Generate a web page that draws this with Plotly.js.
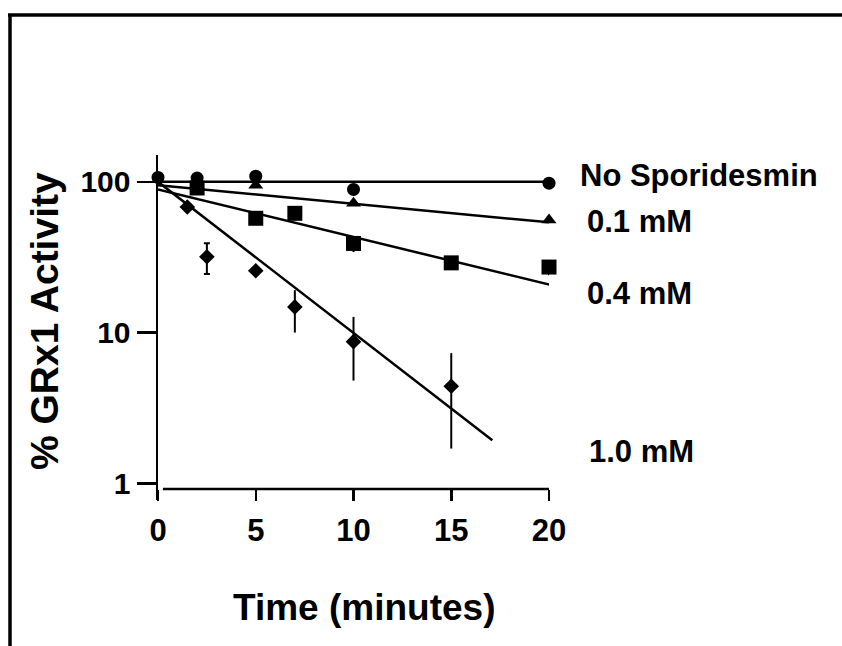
<!DOCTYPE html>
<html>
<head>
<meta charset="utf-8">
<script src="https://cdn.plot.ly/plotly-3.0.1.min.js"></script>
<style>
  html, body { margin: 0; padding: 0; background: #fff; }
  #chart { width: 842px; height: 646px; }
</style>
</head>
<body>
<div id="chart"></div>
<script>
// Time points (minutes) and % GRx1 activity for each sporidesmin concentration
const seriesNames = ['No Sporidesmin', '0.1 mM', '0.4 mM', '1.0 mM'];

const tNone = [0, 2, 5, 10, 20];
const yNone = [107, 106, 109, 89, 98];

const t01 = [5, 10, 20];
const y01 = [95, 72, 55.8];

const t04 = [2, 5, 7, 10, 15, 20];
const y04 = [91, 57.3, 61.8, 39, 29, 27.2];
const e04Plus = [0, 0, 0, 0, 0, 0];
const e04Minus = [0, 0, 0, 4.8, 0, 3.2];

const t10 = [1.5, 5, 7, 10, 15];
const y10 = [68, 25.7, 14.8, 8.7, 4.4];
const e10Plus = [0, 0, 4.3, 4.0, 2.9];
const e10Minus = [0, 0, 4.8, 3.9, 2.7];

// the 2.5 min point is drawn with capped error bars
const t10cap = [2.5];
const y10cap = [31.8];
const e10capPlus = [7.4];
const e10capMinus = [7.3];

// fitted exponential decay lines (end points)
const fitNoneX = [0, 20.9], fitNoneY = [100, 100];
const fit01X = [0, 20.9],   fit01Y = [95, 52.5];
const fit04X = [0, 20.7],   fit04Y = [89, 19.8];
const fit10X = [0, 17.1],   fit10Y = [100, 1.93];

// axis ticks
const xTicks = [0, 5, 10, 15, 20];
const yTicks = [1, 10, 100];
const yTickText = ['1', '10', '100'];

// series name placement to the right of the plot (paper coordinates)
const labelPos = [[1.0742, 0.942], [1.0921, 0.8058], [1.0921, 0.600], [1.0972, 0.142]];

const FONT = 'Liberation Sans, Arial, Helvetica, sans-serif';
const black = '#000000';

function fitLine(x, y) {
  return { x: x, y: y, mode: 'lines', type: 'scatter', cliponaxis: false,
           line: { color: black, width: 2.5 }, hoverinfo: 'skip' };
}

const traces = [
  fitLine(fitNoneX, fitNoneY),
  fitLine(fit01X, fit01Y),
  fitLine(fit04X, fit04Y),
  fitLine(fit10X, fit10Y),
  { x: t10, y: y10, type: 'scatter', mode: 'markers', name: seriesNames[3], cliponaxis: false,
    marker: { symbol: 'diamond', size: 12, color: black },
    error_y: { type: 'data', symmetric: false, array: e10Plus, arrayminus: e10Minus,
               color: black, thickness: 2, width: 0 } },
  { x: t10cap, y: y10cap, type: 'scatter', mode: 'markers', name: seriesNames[3], cliponaxis: false,
    marker: { symbol: 'diamond', size: 12, color: black },
    error_y: { type: 'data', symmetric: false, array: e10capPlus, arrayminus: e10capMinus,
               color: black, thickness: 2, width: 3 } },
  { x: t04, y: y04, type: 'scatter', mode: 'markers', name: seriesNames[2], cliponaxis: false,
    marker: { symbol: 'square', size: 15, color: black },
    error_y: { type: 'data', symmetric: false, array: e04Plus, arrayminus: e04Minus,
               color: black, thickness: 2, width: 0 } },
  { x: t01, y: y01, type: 'scatter', mode: 'markers', name: seriesNames[1], cliponaxis: false,
    marker: { symbol: 'triangle-up', size: 13, color: black } },
  { x: tNone, y: yNone, type: 'scatter', mode: 'markers', name: seriesNames[0], cliponaxis: false,
    marker: { symbol: 'circle', size: 13, color: black } }
];

const annotations = seriesNames.map((name, i) => ({
  text: name, xref: 'paper', yref: 'paper', x: labelPos[i][0], y: labelPos[i][1],
  xanchor: 'left', yanchor: 'middle', showarrow: false,
  font: { family: FONT, size: 31, color: black, weight: 'bold' }
}));

annotations.push({
  text: 'Time (minutes)', xref: 'x', yref: 'paper', x: 10.54, y: -0.313,
  xanchor: 'center', yanchor: 'middle', showarrow: false,
  font: { family: FONT, size: 37, color: black, weight: 'bold' }
});
annotations.push({
  text: '% GRx1 Activity', xref: 'paper', yref: 'paper', x: -0.2916, y: 0.5188,
  xanchor: 'center', yanchor: 'middle', showarrow: false, textangle: -90,
  font: { family: FONT, size: 39, color: black, weight: 'bold' }
});

const layout = {
  width: 842, height: 646,
  margin: { l: 158, r: 293, t: 155, b: 146, pad: 0 },
  paper_bgcolor: '#ffffff', plot_bgcolor: '#ffffff',
  showlegend: false,
  font: { family: FONT, color: black },
  xaxis: {
    range: [0, 20], anchor: 'free', position: 0.032,
    showgrid: false, zeroline: false, showline: false,
    tickvals: xTicks, ticks: 'outside', ticklen: 11, tickwidth: 2.5, tickcolor: black,
    ticklabelstandoff: 3,
    tickfont: { family: FONT, size: 31, color: black, weight: 'bold' }
  },
  yaxis: {
    type: 'log', range: [-0.111, 2.178],
    showgrid: false, zeroline: false, showline: true, linecolor: black, linewidth: 2.5,
    tickvals: yTicks, ticktext: yTickText, ticksuffix: '\u2002',
    ticks: 'outside', ticklen: 19, tickwidth: 2.5, tickcolor: black,
    tickfont: { family: FONT, size: 30, color: black, weight: 'bold' }
  },
  shapes: [
    // x axis line, detached slightly from the y axis
    { type: 'line', xref: 'x', yref: 'paper', x0: 0.25, x1: 20, y0: 0.032, y1: 0.032,
      line: { color: black, width: 2.5 } },
    // outer frame: top and left edges
    { type: 'line', xref: 'paper', yref: 'paper', x0: -0.3836, x1: 1.80, y0: 1.4058, y1: 1.4058,
      line: { color: black, width: 3.5 } },
    { type: 'line', xref: 'paper', yref: 'paper', x0: -0.3785, x1: -0.3785, y0: 1.4058, y1: -0.43,
      line: { color: black, width: 3.5 } }
  ],
  annotations: annotations
};

Plotly.newPlot('chart', traces, layout, { staticPlot: true, displayModeBar: false });
</script>
</body>
</html>
